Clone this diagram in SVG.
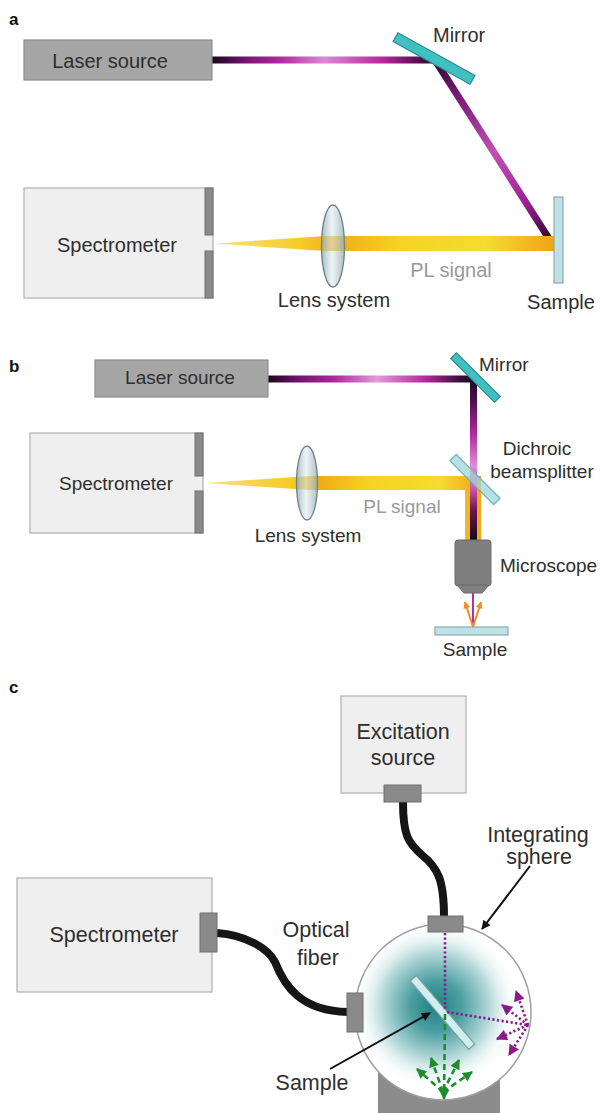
<svg xmlns="http://www.w3.org/2000/svg" width="600" height="1113" viewBox="0 0 600 1113">
  <style>
    .lbl { font-family: "Liberation Sans", Arial, sans-serif; fill: #2e2e2e; }
    .panel { font-family: "Liberation Sans", Arial, sans-serif; font-weight: bold; font-size: 17px; fill: #111; }
    .grey { fill: #999; }
    .boxLight { fill: #efefef; stroke: #b0b0b0; stroke-width: 1.2; }
    .boxLaser { fill: #a6a6a6; stroke: #8e8e8e; stroke-width: 1.2; }
    .conn { fill: #8a8a8a; stroke: #6e6e6e; stroke-width: 1; }
    .mirror { fill: #40c0c0; stroke: #2a8a8e; stroke-width: 1.2; }
    .sample { fill: #bfe0e4; stroke: #8aaab0; stroke-width: 1.2; }
    .lens { fill: url(#lensFill); stroke: #6f8288; stroke-width: 1.3; }
    .fiber { fill: none; stroke: #161616; stroke-width: 8; stroke-linecap: butt; }
    .lead { stroke: #111; stroke-width: 2; fill: none; }
    .purpleDot { stroke: #8a1a8a; stroke-width: 2.6; stroke-dasharray: 2.2 2.4; fill: none; }
    .greenDash { stroke: #1e8c2e; stroke-width: 2.6; stroke-dasharray: 6 4; fill: none; }
  </style>
  <defs>
    <!-- laser beams: dark ends, bright magenta middle -->
    <linearGradient id="laserA1" gradientUnits="userSpaceOnUse" x1="212" y1="0" x2="437" y2="0">
      <stop offset="0" stop-color="#1a081a"/>
      <stop offset="0.14" stop-color="#6e146e"/>
      <stop offset="0.3" stop-color="#b0289f"/>
      <stop offset="0.5" stop-color="#d98ad2"/>
      <stop offset="0.75" stop-color="#b8299f"/>
      <stop offset="0.92" stop-color="#55104f"/>
      <stop offset="1" stop-color="#1a081a"/>
    </linearGradient>
    <linearGradient id="laserA2" gradientUnits="userSpaceOnUse" x1="435" y1="60" x2="553" y2="245">
      <stop offset="0" stop-color="#2a0a2a"/>
      <stop offset="0.15" stop-color="#6a146a"/>
      <stop offset="0.5" stop-color="#c250b6"/>
      <stop offset="0.78" stop-color="#9a1e92"/>
      <stop offset="1" stop-color="#1a081a"/>
    </linearGradient>
    <linearGradient id="laserB1" gradientUnits="userSpaceOnUse" x1="268" y1="0" x2="477" y2="0">
      <stop offset="0" stop-color="#1a081a"/>
      <stop offset="0.14" stop-color="#6e146e"/>
      <stop offset="0.32" stop-color="#b0289f"/>
      <stop offset="0.52" stop-color="#e09ad8"/>
      <stop offset="0.75" stop-color="#b8299f"/>
      <stop offset="0.92" stop-color="#3a0c38"/>
      <stop offset="1" stop-color="#1a081a"/>
    </linearGradient>
    <linearGradient id="laserB2" gradientUnits="userSpaceOnUse" x1="0" y1="376" x2="0" y2="540">
      <stop offset="0" stop-color="#1a081a"/>
      <stop offset="0.14" stop-color="#4a0e48"/>
      <stop offset="0.35" stop-color="#b0289f"/>
      <stop offset="0.55" stop-color="#e08ed8"/>
      <stop offset="0.68" stop-color="#d05aa8"/>
      <stop offset="0.82" stop-color="#6a1450"/>
      <stop offset="1" stop-color="#1a081a"/>
    </linearGradient>
    <!-- photoluminescence beams -->
    <linearGradient id="plA" gradientUnits="userSpaceOnUse" x1="215" y1="0" x2="553" y2="0">
      <stop offset="0" stop-color="#f8e27a"/>
      <stop offset="0.25" stop-color="#f6cc2a"/>
      <stop offset="0.36" stop-color="#f0ac18"/>
      <stop offset="0.55" stop-color="#f5d420"/>
      <stop offset="0.8" stop-color="#f4dc30"/>
      <stop offset="1" stop-color="#f0a418"/>
    </linearGradient>
    <linearGradient id="plB" gradientUnits="userSpaceOnUse" x1="205" y1="0" x2="481" y2="0">
      <stop offset="0" stop-color="#f8e27a"/>
      <stop offset="0.3" stop-color="#f6cc2a"/>
      <stop offset="0.42" stop-color="#f0ac18"/>
      <stop offset="0.6" stop-color="#f5d420"/>
      <stop offset="0.85" stop-color="#f4dc30"/>
      <stop offset="1" stop-color="#f0a418"/>
    </linearGradient>
    <linearGradient id="lensFill" x1="0" y1="0" x2="1" y2="0">
      <stop offset="0" stop-color="#8fa6ae" stop-opacity="0.8"/>
      <stop offset="0.45" stop-color="#dbeaee" stop-opacity="0.55"/>
      <stop offset="1" stop-color="#93abb2" stop-opacity="0.8"/>
    </linearGradient>
    <radialGradient id="sphereGlow" gradientUnits="userSpaceOnUse" cx="436" cy="1006" r="84">
      <stop offset="0" stop-color="#1f7f82"/>
      <stop offset="0.3" stop-color="#4a9ea0"/>
      <stop offset="0.65" stop-color="#b8dadb"/>
      <stop offset="1" stop-color="#ffffff" stop-opacity="0"/>
    </radialGradient>
    <marker id="ahBlack" viewBox="0 0 10 10" refX="9" refY="5" markerWidth="11" markerHeight="9" markerUnits="userSpaceOnUse" orient="auto">
      <path d="M0,0 L10,5 L0,10 z" fill="#111"/>
    </marker>
    <marker id="ahPurple" viewBox="0 0 10 10" refX="9" refY="5" markerWidth="13" markerHeight="11" markerUnits="userSpaceOnUse" orient="auto">
      <path d="M0,0 L10,5 L0,10 z" fill="#8a1a8a"/>
    </marker>
    <marker id="ahGreen" viewBox="0 0 10 10" refX="9" refY="5" markerWidth="12" markerHeight="10" markerUnits="userSpaceOnUse" orient="auto">
      <path d="M0,0 L10,5 L0,10 z" fill="#1e8c2e"/>
    </marker>
    <marker id="ahOrange" viewBox="0 0 10 10" refX="9" refY="5" markerWidth="8" markerHeight="7" markerUnits="userSpaceOnUse" orient="auto">
      <path d="M0,0 L10,5 L0,10 z" fill="#f09020"/>
    </marker>
  </defs>

  <rect x="0" y="0" width="600" height="1113" fill="#ffffff"/>

  <!-- ===================== Panel a ===================== -->
  <text class="panel" x="9" y="25">a</text>

  <g id="a-beams">
    <rect x="212" y="56.5" width="225" height="7" fill="url(#laserA1)"/>
    <line x1="435" y1="60" x2="553" y2="245" stroke="url(#laserA2)" stroke-width="7"/>
    <polygon points="215,243.5 325,236 554,236 554,251 325,251" fill="url(#plA)"/>
  </g>

  <g id="a-laser">
    <rect class="boxLaser" x="24" y="40" width="188" height="40"/>
    <text class="lbl" x="110" y="68" font-size="20" text-anchor="middle">Laser source</text>
  </g>

  <g id="a-mirror">
    <rect class="mirror" x="-44" y="-5" width="88" height="10" transform="translate(434,58.5) rotate(29)"/>
    <text class="lbl" x="433" y="42" font-size="20">Mirror</text>
  </g>

  <g id="a-sample">
    <rect class="sample" x="554" y="197" width="9" height="86"/>
    <text class="lbl" x="561" y="309" font-size="20" text-anchor="middle">Sample</text>
  </g>

  <g id="a-lens">
    <ellipse class="lens" cx="333" cy="246" rx="11.5" ry="41"/>
    <text class="lbl" x="334" y="307" font-size="20" text-anchor="middle">Lens system</text>
  </g>

  <text class="lbl grey" x="451" y="277" font-size="20" text-anchor="middle">PL signal</text>

  <g id="a-spectrometer">
    <rect class="boxLight" x="24" y="188" width="189" height="110"/>
    <rect class="conn" x="205" y="188" width="8" height="47"/>
    <rect class="conn" x="205" y="251" width="8" height="47"/>
    <text class="lbl" x="117" y="252" font-size="20" text-anchor="middle">Spectrometer</text>
  </g>

  <!-- ===================== Panel b ===================== -->
  <text class="panel" x="9" y="372">b</text>

  <g id="b-beams">
    <polygon points="205,483 310,476 481,476 481,540 465,540 465,490 310,490" fill="url(#plB)"/>
    <rect x="268" y="375.5" width="209" height="7" fill="url(#laserB1)"/>
    <rect x="470" y="375.5" width="7" height="165" fill="url(#laserB2)"/>
  </g>

  <g id="b-laser">
    <rect class="boxLaser" x="95" y="360" width="173" height="37"/>
    <text class="lbl" x="180" y="384" font-size="19" text-anchor="middle">Laser source</text>
  </g>

  <g id="b-mirror">
    <rect class="mirror" x="-31" y="-4" width="62" height="8" transform="translate(475.5,377.5) rotate(45)"/>
    <text class="lbl" x="479" y="371" font-size="19">Mirror</text>
  </g>

  <g id="b-beamsplitter">
    <rect x="-31" y="-4.5" width="62" height="9" fill="#9fd6da" fill-opacity="0.75" stroke="#6fb2b8" stroke-width="1.2" transform="translate(475,479.5) rotate(45)"/>
    <text class="lbl" x="537" y="455" font-size="19" text-anchor="middle">Dichroic</text>
    <text class="lbl" x="542" y="478" font-size="19" text-anchor="middle">beamsplitter</text>
  </g>

  <g id="b-lens">
    <ellipse class="lens" cx="307" cy="483" rx="10.5" ry="37"/>
    <text class="lbl" x="308" y="542" font-size="19" text-anchor="middle">Lens system</text>
  </g>

  <text class="lbl grey" x="402" y="513" font-size="19" text-anchor="middle">PL signal</text>

  <g id="b-spectrometer">
    <rect class="boxLight" x="30" y="433" width="173" height="100"/>
    <rect class="conn" x="195" y="433" width="8" height="43"/>
    <rect class="conn" x="195" y="491" width="8" height="42"/>
    <text class="lbl" x="116" y="490" font-size="19" text-anchor="middle">Spectrometer</text>
  </g>

  <g id="b-microscope">
    <rect x="455" y="540" width="36" height="46" rx="3" fill="#7f7f7f" stroke="#6a6a6a" stroke-width="1"/>
    <polygon points="457,585 489,585 482,593 464,593" fill="#7f7f7f" stroke="#6a6a6a" stroke-width="1"/>
    <text class="lbl" x="500" y="572" font-size="19">Microscope</text>
  </g>

  <g id="b-focus">
    <line x1="473" y1="593" x2="473" y2="627" stroke="#b030b0" stroke-width="2"/>
    <line x1="473" y1="627" x2="465" y2="602" stroke="#f09020" stroke-width="2" marker-end="url(#ahOrange)"/>
    <line x1="473" y1="627" x2="481" y2="602" stroke="#f09020" stroke-width="2" marker-end="url(#ahOrange)"/>
  </g>

  <g id="b-sample">
    <rect class="sample" x="435" y="627" width="73" height="8"/>
    <text class="lbl" x="475" y="656" font-size="19" text-anchor="middle">Sample</text>
  </g>

  <!-- ===================== Panel c ===================== -->
  <text class="panel" x="9" y="693">c</text>

  <g id="c-fibers">
    <path class="fiber" d="M403,802 C403,835 408,843 422,855 C438,868 444,880 444,917"/>
    <path class="fiber" d="M217,933 C245,935 268,948 275,962 C284,985 300,1011 348,1012"/>
  </g>

  <g id="c-excitation">
    <rect class="boxLight" x="341" y="696" width="125" height="97"/>
    <rect class="conn" x="384" y="785" width="37" height="17"/>
    <text class="lbl" x="403" y="739" font-size="21.5" text-anchor="middle">Excitation</text>
    <text class="lbl" x="403" y="765" font-size="21.5" text-anchor="middle">source</text>
  </g>

  <g id="c-spectrometer">
    <rect class="boxLight" x="17" y="878" width="195" height="114"/>
    <rect class="conn" x="200" y="913" width="17" height="39"/>
    <text class="lbl" x="114" y="942" font-size="21.5" text-anchor="middle">Spectrometer</text>
  </g>

  <text class="lbl" x="316" y="937" font-size="21.5" text-anchor="middle">Optical</text>
  <text class="lbl" x="318" y="965" font-size="21.5" text-anchor="middle">fiber</text>

  <g id="c-sphere">
    <rect x="378" y="1060" width="122" height="53" fill="#8c8c8c"/>
    <circle cx="443" cy="1012" r="88" fill="#ffffff" stroke="#a0a0a0" stroke-width="1.5"/>
    <circle cx="443" cy="1012" r="87" fill="url(#sphereGlow)"/>
    <rect class="conn" x="428" y="916" width="35" height="16"/>
    <rect class="conn" x="347" y="993" width="16" height="39"/>
    <text class="lbl" x="538" y="842" font-size="21.5" text-anchor="middle">Integrating</text>
    <text class="lbl" x="539" y="864" font-size="21.5" text-anchor="middle">sphere</text>
  </g>

  <g id="c-sample">
    <rect x="-45" y="-4" width="90" height="8" fill="#d0eef0" stroke="#7a9ea0" stroke-width="1.2" transform="translate(442.5,1012.5) rotate(49.5)"/>
    <text class="lbl" x="312" y="1090" font-size="21.5" text-anchor="middle">Sample</text>
  </g>

  <g id="connectors">
    <!-- excitation light into the sphere and its reflection -->
    <line class="purpleDot" x1="445" y1="933" x2="445" y2="1010"/>
    <line class="purpleDot" x1="447" y1="1012" x2="527" y2="1025"/>
    <line class="purpleDot" x1="528" y1="1025" x2="516" y2="991" marker-end="url(#ahPurple)"/>
    <line class="purpleDot" x1="528" y1="1025" x2="502" y2="1005" marker-end="url(#ahPurple)"/>
    <line class="purpleDot" x1="528" y1="1025" x2="497" y2="1039" marker-end="url(#ahPurple)"/>
    <line class="purpleDot" x1="528" y1="1025" x2="509" y2="1055" marker-end="url(#ahPurple)"/>
    <!-- emitted light -->
    <line class="greenDash" x1="445" y1="1014" x2="444" y2="1099" marker-end="url(#ahGreen)"/>
    <line class="greenDash" x1="443" y1="1092" x2="417" y2="1069" marker-end="url(#ahGreen)"/>
    <line class="greenDash" x1="443" y1="1092" x2="431" y2="1058" marker-end="url(#ahGreen)"/>
    <line class="greenDash" x1="443" y1="1092" x2="459" y2="1060" marker-end="url(#ahGreen)"/>
    <line class="greenDash" x1="443" y1="1092" x2="472" y2="1072" marker-end="url(#ahGreen)"/>
    <!-- label leaders -->
    <line class="lead" x1="330" y1="1069" x2="430" y2="1013" marker-end="url(#ahBlack)"/>
    <line class="lead" x1="530" y1="866" x2="482" y2="929" marker-end="url(#ahBlack)"/>
  </g>
</svg>
